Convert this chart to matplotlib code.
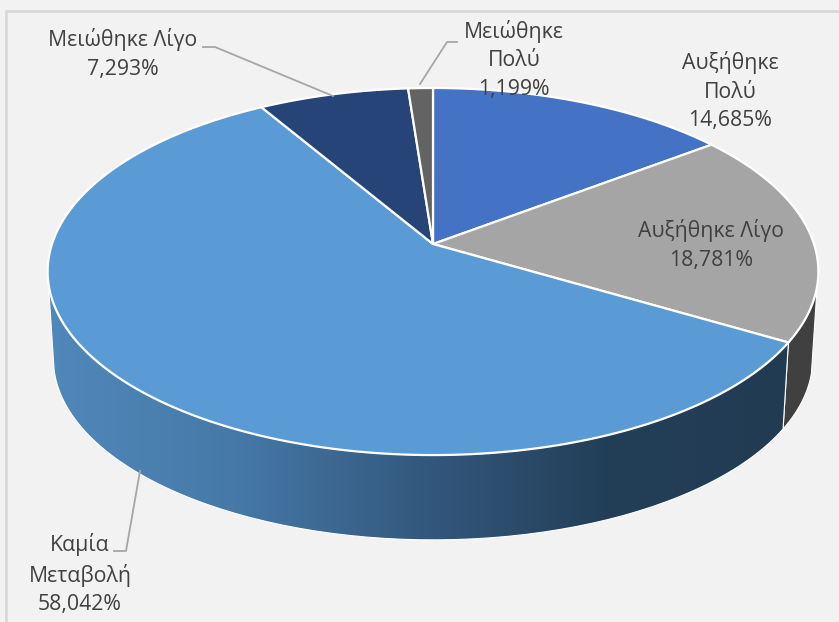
import matplotlib
matplotlib.use('Agg')
import matplotlib.pyplot as plt
from matplotlib.colors import LinearSegmentedColormap
from matplotlib.patches import Polygon
import numpy as np

plt.rcParams['font.family'] = ['Open Sans', 'DejaVu Sans']

labels = ['Αυξήθηκε\nΠολύ', 'Αυξήθηκε Λίγο', 'Καμία\nΜεταβολή', 'Μειώθηκε Λίγο', 'Μειώθηκε\nΠολύ']
values = [14.685, 18.781, 58.042, 7.293, 1.199]
colors = ['#4472c4', '#a5a5a5', '#5b9bd5', '#264478', '#636363']
label_pos = [(730, 91), (711, 245), (80, 574), (123, 54), (514, 60)]

# leader lines, in pixels of the picture
leaders = [[(203, 47), (215, 47), (333, 96)],
           [(457, 42), (447, 42), (420, 84)],
           [(114, 551), (126, 551), (140, 471)]]

# perspective of the pie disc
cx = 433
top_y = 244
bottom_y = 332
A = 381
B = 179.4
k = 0.15
shrink = 0.985

fig = plt.figure(figsize=(8.39, 6.22), dpi=100, facecolor='#f2f2f2')
ax = fig.add_axes([0, 0, 1, 1])
ax.set_xlim(0, 839)
ax.set_ylim(622, 0)
ax.axis('off')


def project(deg, apex_y=top_y, s=1.0):
    # deg is measured clockwise from the top of the pie
    t = np.radians(deg)
    u, v = np.sin(t), np.cos(t)
    return cx + s * A * u / (1 + k * v), apex_y - s * B * v / (1 + k * v)


def side_poly(a, b):
    t = np.linspace(a, b, 120)
    xt, yt = project(t)
    xb, yb = project(t, bottom_y, shrink)
    return np.r_[xt, xb[::-1]], np.r_[yt, yb[::-1]]


# frame of the chart area
ax.plot([5.5, 5.5, 839], [622, 10.5, 10.5], color='#d9d9d9', lw=2)

edges = np.r_[0, np.cumsum(values)] * 3.6

# sides, only the two front slices show
x, y = side_poly(103, edges[2])
ax.fill(x, y, color='#404040', ec='white', lw=0.8, zorder=2)

x, y = side_poly(edges[2], 258)
cmap = LinearSegmentedColormap.from_list('side', ['#5088bb', '#4679a8', '#34597f', '#233f58', '#213b52'])
grad = np.linspace(0, 1, 256).reshape(1, -1)
im = ax.imshow(grad, cmap=cmap, extent=(48, 790, 622, 0), aspect='auto', zorder=3)
ax.set_xlim(0, 839)
ax.set_ylim(622, 0)
clip = Polygon(np.c_[x, y], transform=ax.transData)
im.set_clip_path(clip)
ax.plot(np.r_[x, x[0]], np.r_[y, y[0]], color='white', lw=0.8, zorder=4)

# top of the pie
for i in range(len(values)):
    t = np.linspace(edges[i], edges[i + 1], 200)
    xt, yt = project(t)
    ax.fill(np.r_[cx, xt], np.r_[top_y, yt], color=colors[i], ec='white', lw=1.6, zorder=5)

for pts in leaders:
    ax.plot(*zip(*pts), color='#a6a6a6', lw=1.3, zorder=6)

for i in range(len(values)):
    txt = labels[i] + '\n' + f'{values[i]:.3f}'.replace('.', ',') + '%'
    ax.text(label_pos[i][0], label_pos[i][1], txt, ha='center', va='center', fontsize=15.3,
            color='#404040', linespacing=1.45, zorder=7)

fig.savefig('out.png', dpi=100, facecolor=fig.get_facecolor())
